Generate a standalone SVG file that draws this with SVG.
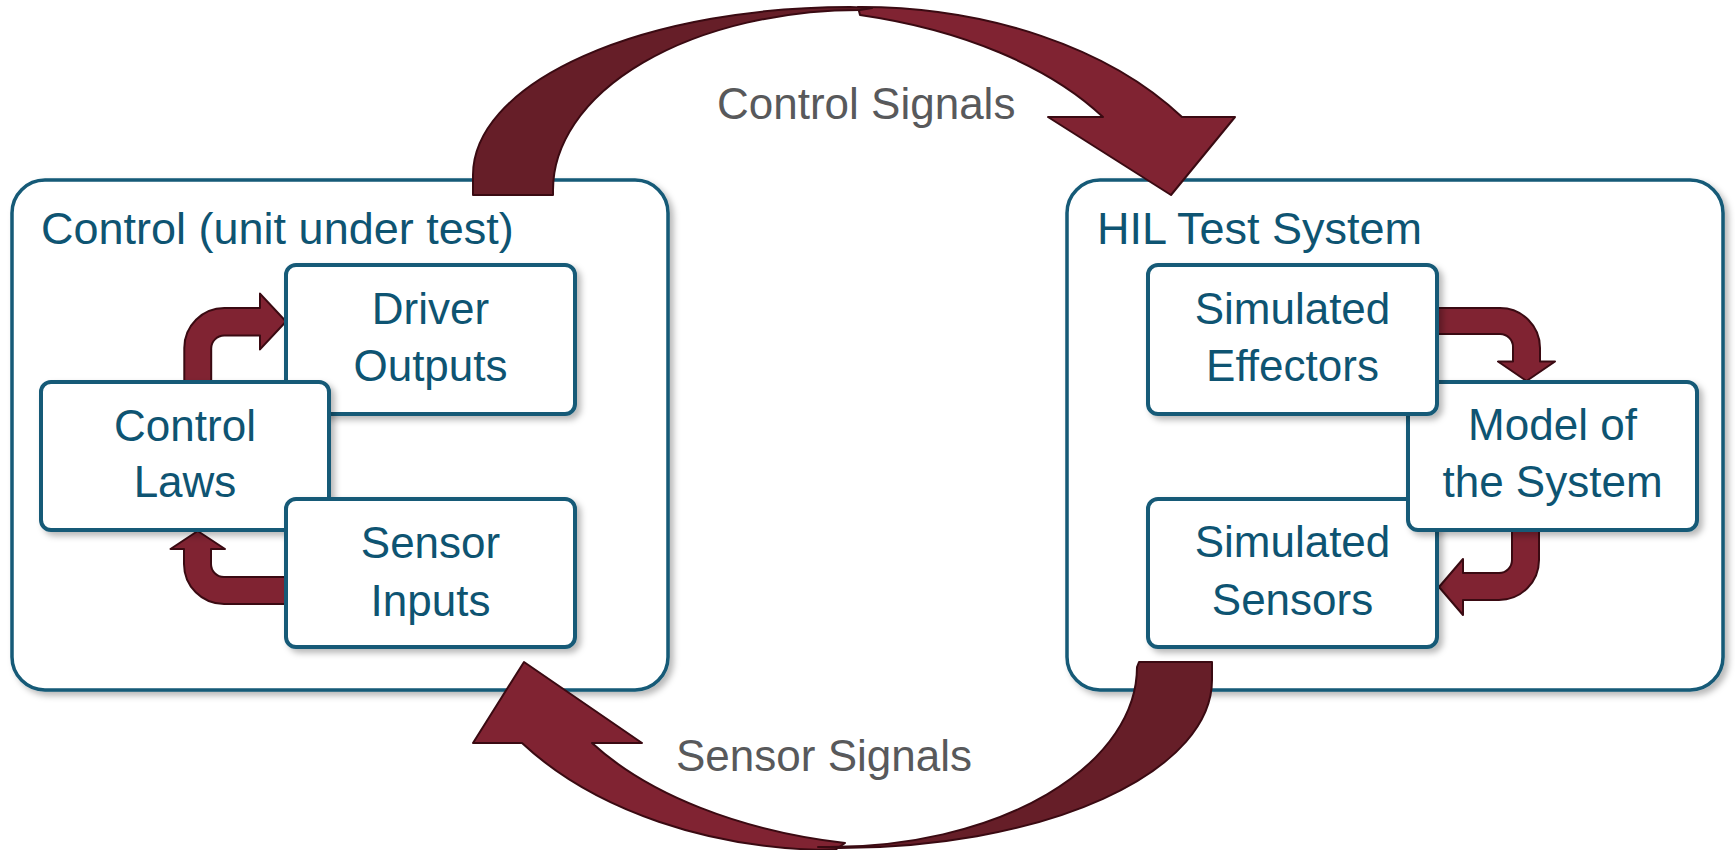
<svg xmlns="http://www.w3.org/2000/svg" width="1735" height="850" viewBox="0 0 1735 850">
<defs>
<filter id="sh" x="-10%" y="-10%" width="130%" height="130%">
<feDropShadow dx="4" dy="4" stdDeviation="3" flood-color="#000" flood-opacity="0.28"/>
</filter>
<style>
.outer{fill:#fff;stroke:#145a77;stroke-width:3.5;filter:url(#sh)}
.box{fill:#fff;stroke:#145a77;stroke-width:4;filter:url(#sh)}
.t{font-family:"Liberation Sans",Arial,sans-serif;font-size:44px;fill:#0e5472;text-anchor:middle}
.title{font-family:"Liberation Sans",Arial,sans-serif;font-size:45px;fill:#0e5472}
.lbl{font-family:"Liberation Sans",Arial,sans-serif;font-size:44px;fill:#58595b}
.dark{fill:#661e28;stroke:#3a0a12;stroke-width:2;stroke-linejoin:round}
.light{fill:#802332;stroke:#3a0a12;stroke-width:2;stroke-linejoin:round}
</style>
</defs>
<rect width="1735" height="850" fill="#fff"/>

<g id="control-unit">
<rect class="outer" x="12" y="180" width="656" height="510" rx="33"/>
<text class="title" x="41" y="244">Control (unit under test)</text>
</g>
<g id="hil-test-system">
<rect class="outer" x="1067" y="180" width="656" height="510" rx="33"/>
<text class="title" x="1097" y="244">HIL Test System</text>
</g>

<g id="connectors">
<!-- Control Signals big arrow -->
<path class="light" d="M858,7 A390,253 0 0 1 1182,117 L1235,117 L1171,195 L1048,117 L1103,117 A398,222 0 0 0 860,15 Z"/>
<path class="dark" d="M473,195 L473,175 A377,168 0 0 1 850,7 L872,8 L860,10 A307,180 0 0 0 553,190 L553,195 Z"/>
<text class="lbl" x="717" y="119">Control Signals</text>
<!-- Sensor Signals big arrow -->
<path class="light" d="M835,850 A383,253 0 0 1 522,743 L473,743 L524,662 L642,743 L592,743 A390,218 0 0 0 845,843 Z"/>
<path class="dark" d="M1212,662 L1212,680 A372,168 0 0 1 840,848 L818,847 L830,847 A307,180 0 0 0 1137,667 L1139,662 Z"/>
<text class="lbl" x="676" y="771">Sensor Signals</text>
<!-- small arrows -->
<path class="light" d="M184.3,392 L184.3,348 A40,40 0 0 1 224.3,308 L260,308 L260,293.6 L286,321.5 L260,349.4 L260,335.6 L224.2,335.6 A13,13 0 0 0 211.2,348.6 L211.2,392 Z"/>
<path class="light" d="M295,577 L224,577 A13,13 0 0 1 211,564 L211,549 L225,549 L197.7,531 L170.5,549 L184,549 L184,564 A40,40 0 0 0 224,604 L295,604 Z"/>
<path class="light" d="M1430,308 L1500,308 A40,40 0 0 1 1540,348 L1540,361.5 L1555,361.5 L1526.5,381 L1498,361.5 L1513,361.5 L1513,347 A13,13 0 0 0 1500,334 L1430,334 Z"/>
<path class="light" d="M1512,522 L1539,522 L1539,560 A40,40 0 0 1 1499,600 L1463,600 L1463,615 L1439,587 L1463,559 L1463,573 L1499,573 A13,13 0 0 0 1512,560 Z"/>
</g>

<g id="driver-outputs">
<rect class="box" x="286" y="265" width="289" height="149" rx="10"/>
<text class="t" x="430.5" y="323.5">Driver</text>
<text class="t" x="430.5" y="381">Outputs</text>
</g>
<g id="control-laws">
<rect class="box" x="41" y="382" width="288" height="148" rx="10"/>
<text class="t" x="185" y="440.5">Control</text>
<text class="t" x="185" y="497">Laws</text>
</g>
<g id="sensor-inputs">
<rect class="box" x="286" y="499" width="289" height="148" rx="10"/>
<text class="t" x="430.5" y="557.5">Sensor</text>
<text class="t" x="430.5" y="615.5">Inputs</text>
</g>

<g id="simulated-sensors">
<rect class="box" x="1148" y="499" width="289" height="148" rx="10"/>
<text class="t" x="1292.5" y="557">Simulated</text>
<text class="t" x="1292.5" y="615">Sensors</text>
</g>
<g id="model-of-the-system">
<rect class="box" x="1408" y="382" width="289" height="148" rx="10"/>
<text class="t" x="1552.5" y="440">Model of</text>
<text class="t" x="1552.5" y="497">the System</text>
</g>
<g id="simulated-effectors">
<rect class="box" x="1148" y="265" width="289" height="149" rx="10"/>
<text class="t" x="1292.5" y="323.5">Simulated</text>
<text class="t" x="1292.5" y="381">Effectors</text>
</g>
</svg>
